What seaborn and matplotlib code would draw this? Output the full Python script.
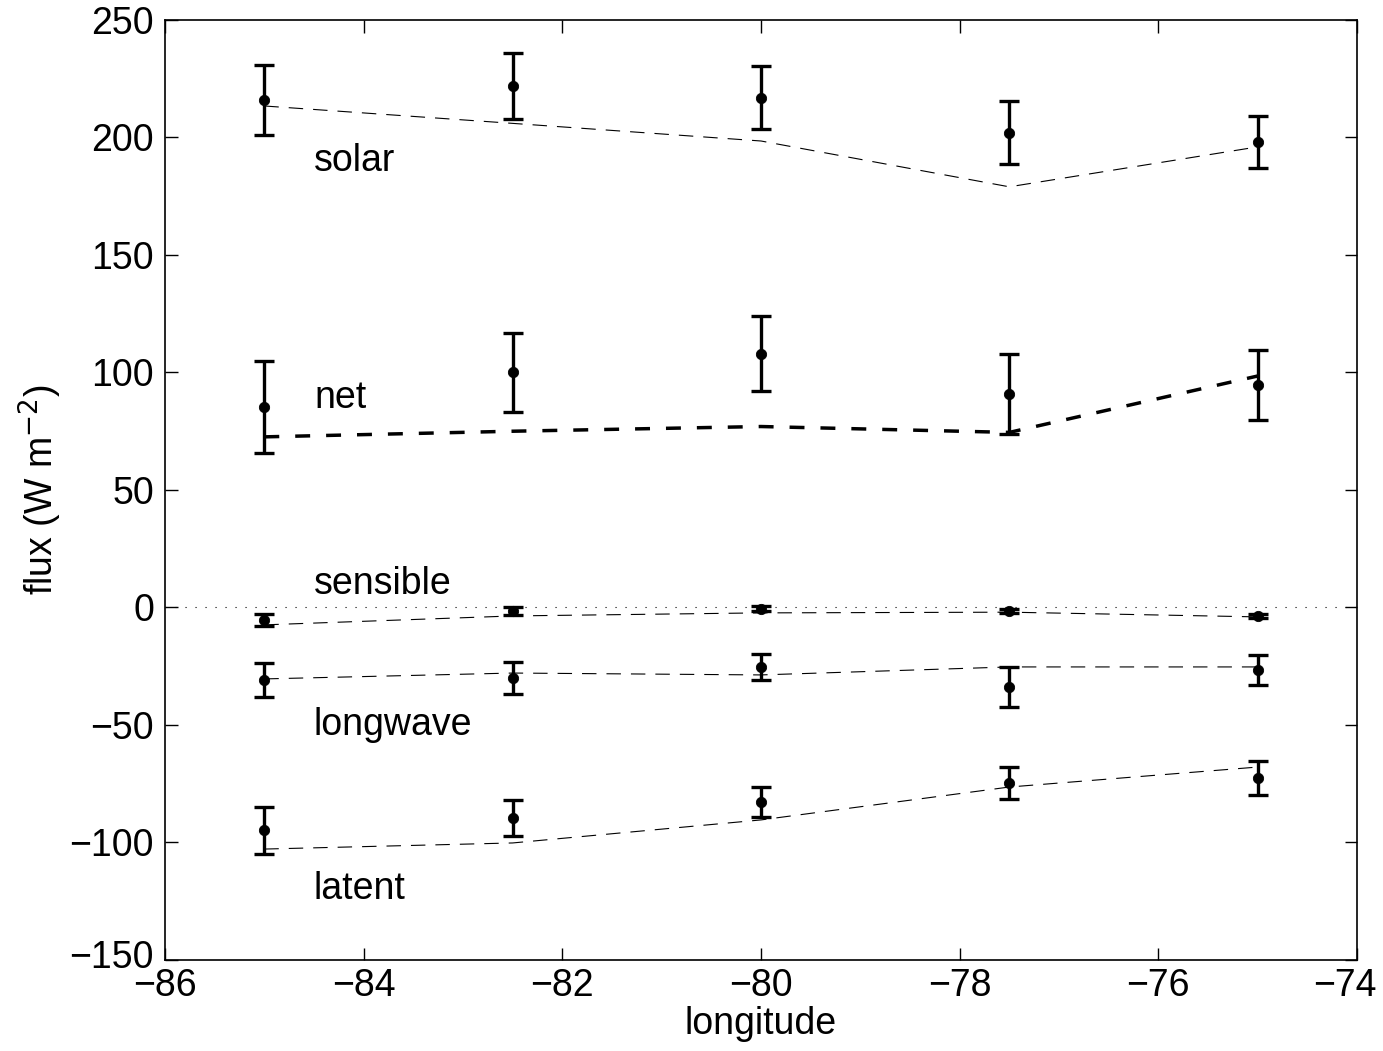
import matplotlib
matplotlib.use("Agg")
import matplotlib.pyplot as plt
import matplotlib.transforms as mtrans
import seaborn as sns
import numpy as np
import pandas as pd

lon = [-85.0, -82.5, -80.0, -77.5, -75.0]

solar_obs = [216, 222, 217, 202, 198]
solar_err = [15, 14, 13.5, 13.5, 11]
solar_mod = [213.4, 206, 198.5, 179, 196]

net_obs = [85.3, 100, 108, 91, 94.7]
net_err = [19.5, 17, 16, 17, 15]
net_mod = [72.6, 75, 77, 74.5, 98.5]

sens_obs = [-5.3, -1.5, -0.5, -1.5, -3.6]
sens_err = [2.6, 1.5, 1.0, 1.0, 1.0]
sens_mod = [-7.4, -3.6, -2.3, -2.0, -4.0]

lw_obs = [-31, -30, -25.3, -33.8, -26.6]
lw_err = [7.3, 7, 5.7, 8.5, 6.2]
lw_mod = [-30.4, -27.9, -28.7, -25.3, -25.3]

lat_obs = [-94.7, -89.6, -82.8, -74.7, -72.6]
lat_err = [10, 7.7, 6.2, 6.8, 7.2]
lat_mod = [-102.8, -100.2, -90.4, -76.4, -67.9]

labels = ["solar", "net", "sensible", "longwave", "latent"]
label_y = [190, 89, 10, -50, -120]

series = [
    (solar_obs, solar_err, solar_mod, 0.8),
    (net_obs, net_err, net_mod, 2.5),
    (sens_obs, sens_err, sens_mod, 0.8),
    (lw_obs, lw_err, lw_mod, 0.8),
    (lat_obs, lat_err, lat_mod, 0.8),
]

sns.set_style("ticks")
plt.rcParams['font.family'] = ['Liberation Sans', 'DejaVu Sans']
plt.rcParams['font.size'] = 27
plt.rcParams['text.color'] = 'black'
plt.rcParams['axes.labelcolor'] = 'black'
plt.rcParams['xtick.color'] = 'black'
plt.rcParams['ytick.color'] = 'black'
plt.rcParams['axes.edgecolor'] = 'black'

fig = plt.figure(figsize=(13.83, 10.51), dpi=100)
ax = fig.add_axes([0.1193, 0.0866, 0.9812 - 0.1193, 0.981 - 0.0866])

ax.axhline(0, color='black', lw=0.8, linestyle=(0, (1, 8)))

for obs, err, mod, mlw in series:
    df = pd.DataFrame({"lon": lon, "mod": mod})
    if mlw > 1:
        ls = (0, (4.3, 4.6))
    else:
        ls = (0, (13, 9))
    sns.lineplot(data=df, x="lon", y="mod", ax=ax, color='black', lw=mlw,
                 linestyle=ls, legend=False)
    ax.errorbar(lon, obs, yerr=err, fmt='none', ecolor='black', elinewidth=2.4,
                capsize=7, capthick=2.4, zorder=3)
    dfo = pd.DataFrame({"lon": lon, "obs": obs})
    sns.scatterplot(data=dfo, x="lon", y="obs", ax=ax, color='black', s=55,
                    edgecolor='black', zorder=4, legend=False)

for lab, ly in zip(labels, label_y):
    ax.text(-84.5, ly, lab, fontsize=27, ha='left', va='center', color='black')

ax.set_xlim(-86, -74)
ax.set_ylim(-150, 250)
ax.set_xticks(np.arange(-86, -73, 2))
ax.set_yticks(np.arange(-150, 251, 50))
ax.set_xticklabels([f"\u2212{abs(v)}" for v in range(-86, -73, 2)])
ax.set_yticklabels([(f"\u2212{abs(v)}" if v < 0 else f"{v}") for v in range(-150, 251, 50)])
ax.tick_params(axis='both', direction='in', length=9, width=1, top=True, right=True,
               labelsize=27)
ax.tick_params(axis='y', pad=8)
ax.tick_params(axis='x', pad=6)
for sp in ax.spines.values():
    sp.set_linewidth(1.2)
ax.set_xlabel("longitude", fontsize=27, labelpad=1)
ax.set_ylabel("flux (W m$^{-2}$)", fontsize=27, labelpad=4)

last = ax.get_xticklabels()[-1]
last.set_transform(last.get_transform() + mtrans.ScaledTranslation(-9 / 72, 0, fig.dpi_scale_trans))
first_y = ax.get_yticklabels()[0]
first_y.set_transform(first_y.get_transform() + mtrans.ScaledTranslation(0, 4 / 72, fig.dpi_scale_trans))

fig.savefig("out.png", dpi=100)
